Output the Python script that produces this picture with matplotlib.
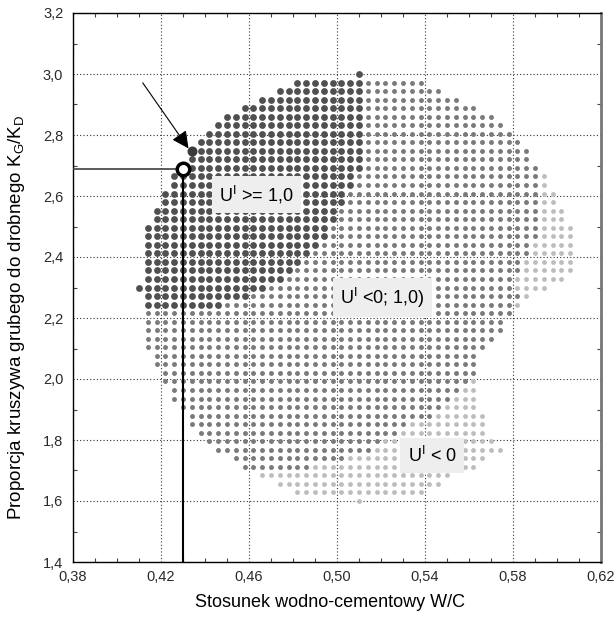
import numpy as np
import matplotlib
matplotlib.use("Agg")
import matplotlib.pyplot as plt
from matplotlib.ticker import MultipleLocator, FuncFormatter

plt.rcParams['font.family'] = ['Liberation Sans', 'DejaVu Sans']
plt.rcParams['mathtext.fontset'] = 'custom'
plt.rcParams['mathtext.rm'] = 'Liberation Sans'
plt.rcParams['mathtext.it'] = 'Liberation Sans'

# siatka planu: W/C 0,41..0,61 (51 poziomów), KG/KD 1,6..3,0 (51 poziomów)
wc_levels = np.linspace(0.41, 0.61, 51)
kg_levels = np.linspace(3.0, 1.6, 51)   # od góry do dołu

# dla każdego wiersza (od KG/KD = 3,0 w dół): indeksy kolumn
# start wiersza, ostatni punkt U>=1, ostatni punkt 0<=U<1, koniec wiersza (-1 = brak)
row_start = [25, 18, 16, 14, 12, 10, 9, 8, 7, 6, 6, 6, 4, 4, 3, 3, 2, 2, 1, 1,
             1, 1, 1, 1, 1, 0, 1, 1, 1, 1, 1, 1, 1, 2, 2, 3, 3, 4, 4, 5,
             6, 6, 7, 8, 9, 11, 12, 14, 16, 18, 25]
dark_end = [25, 25, 25, 25, 25, 25, 25, 25, 25, 25, 25, 25, 24, 24, 23, 23, 22, 22, 21, 21,
            20, 19, 18, 17, 16, 14, 12, 9, -1, -1, -1, -1, -1, -1, -1, -1, -1, -1, -1, -1,
            -1, -1, -1, -1, -1, -1, -1, -1, -1, -1, -1]
mid_end = [25, 32, 34, 36, 38, 40, 41, 42, 43, 44, 44, 45, 45, 45, 45, 45, 45, 45, 45, 45,
           44, 44, 43, 43, 42, 42, 43, 42, 42, 41, 41, 40, 39, 38, 38, 38, 37, 36, 35, 34,
           33, 30, 29, 27, 26, 23, 19, -1, -1, -1, -1]
row_end = [25, 32, 34, 36, 38, 40, 41, 42, 43, 44, 44, 45, 46, 46, 47, 47, 48, 48, 49, 49,
           49, 49, 49, 49, 48, 46, 44, 43, 42, 41, 41, 40, 39, 38, 38, 38, 38, 38, 38, 38,
           39, 39, 39, 40, 41, 39, 38, 35, 34, 32, 25]

# punkt optymalny i punkt wskazany strzałką
opt_wc, opt_kg = 0.43, 2.69
arrow_wc, arrow_kg = 0.434, 2.748

x_ticks = [0.38, 0.42, 0.46, 0.50, 0.54, 0.58, 0.62]
y_ticks = [1.4, 1.6, 1.8, 2.0, 2.2, 2.4, 2.6, 2.8, 3.0, 3.2]

pts = {'dark': ([], []), 'mid': ([], []), 'light': ([], [])}
for r in range(len(kg_levels)):
    for c in range(row_start[r], row_end[r] + 1):
        if c <= dark_end[r]:
            key = 'dark'
        elif c <= mid_end[r]:
            key = 'mid'
        else:
            key = 'light'
        pts[key][0].append(wc_levels[c])
        pts[key][1].append(kg_levels[r])

fig = plt.figure(figsize=(6.16, 6.18), dpi=100)
ax = fig.add_axes([73 / 616, 56 / 618, 528 / 616, 549 / 618])

ax.scatter(*pts['light'], s=12, c='#bdbdbd', linewidths=0, zorder=2)
ax.scatter(*pts['mid'], s=12.5, c='#7a7a7a', linewidths=0, zorder=2)
ax.scatter(*pts['dark'], s=24, c='#505050', linewidths=0, zorder=2)
ax.scatter([arrow_wc], [arrow_kg], s=52, c='#3c3c3c', linewidths=0, zorder=3)

ax.plot([0.38, opt_wc], [opt_kg, opt_kg], color='#404040', lw=1.2, zorder=4)
ax.plot([opt_wc, opt_wc], [1.4, opt_kg], color='black', lw=1.5, zorder=4)
ax.plot([opt_wc], [opt_kg], 'o', ms=9, mfc='white', mec='black', mew=2.5, zorder=5)

ax.annotate('', xy=(arrow_wc - 0.0015, arrow_kg + 0.008), xytext=(0.4117, 2.971),
            arrowprops=dict(arrowstyle='-|>', color='black', lw=0.8,
                            mutation_scale=26, shrinkA=0, shrinkB=0), zorder=5)

box = dict(boxstyle='square,pad=0.42', fc='#eeeeee', ec='none')
ax.text(0.4634, 2.605, r'U$^{\mathregular{I}}$ >= 1,0', ha='center', va='center',
        fontsize=13, bbox=box, zorder=6)
ax.text(0.5207, 2.267, r'U$^{\mathregular{I}}$ <0; 1,0)', ha='center', va='center',
        fontsize=13, bbox=box, zorder=6)
ax.text(0.5432, 1.748, r'U$^{\mathregular{I}}$ < 0', ha='center', va='center',
        fontsize=13, bbox=box, zorder=6)

ax.set_xlim(0.38, 0.62)
ax.set_ylim(1.4, 3.2)
ax.set_xticks(x_ticks)
ax.set_yticks(y_ticks)
ax.xaxis.set_minor_locator(MultipleLocator(0.01))
ax.yaxis.set_minor_locator(MultipleLocator(0.1))
ax.xaxis.set_major_formatter(FuncFormatter(lambda v, p: f"{v:.2f}".replace('.', ',')))
ax.yaxis.set_major_formatter(FuncFormatter(lambda v, p: f"{v:.1f}".replace('.', ',')))
ax.tick_params(which='major', direction='in', length=0, labelsize=10.5,
               labelcolor='#2a2a2a')
ax.tick_params(axis='x', which='major', pad=6)
ax.tick_params(axis='y', which='major', pad=7)
ax.tick_params(which='minor', direction='in', length=3, width=0.8, color='#444444',
               top=True, right=True)
ax.grid(True, which='major', linestyle=(0, (1, 2)), color='#333333', lw=0.8)
ax.set_axisbelow(True)

for s in ['left', 'bottom', 'top']:
    ax.spines[s].set_color('black')
    ax.spines[s].set_linewidth(1.0)
ax.spines['right'].set_color('#777777')
ax.spines['right'].set_linewidth(2.0)

ax.set_xlabel('Stosunek wodno-cementowy W/C', fontsize=13)
ax.set_ylabel(r'Proporcja kruszywa grubego do drobnego K$_{\mathregular{G}}$/K$_{\mathregular{D}}$',
              fontsize=13.5)
ax.xaxis.set_label_coords(0.487, -0.058)
ax.yaxis.set_label_coords(-0.087, 0.446)

fig.savefig('out.png', dpi=100)
